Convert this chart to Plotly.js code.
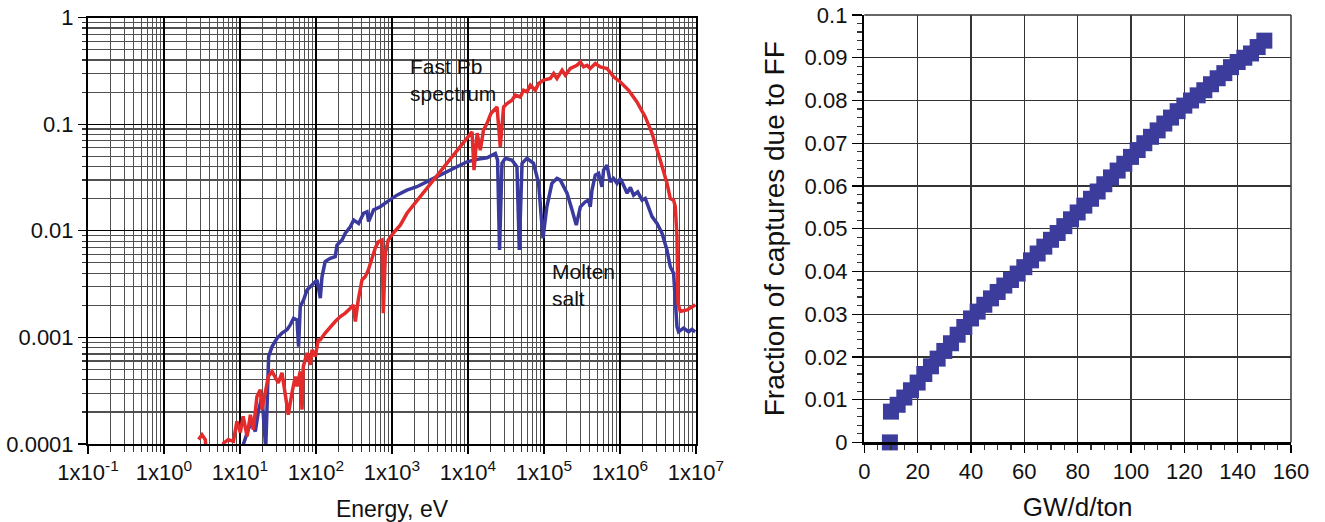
<!DOCTYPE html>
<html>
<head>
<meta charset="utf-8">
<script src="https://cdn.plot.ly/plotly-3.0.1.min.js"></script>
<style>html,body{margin:0;padding:0;background:#fff;}#chart{width:1325px;height:522px;}</style>
</head>
<body>
<div id="chart"></div>
<script>
// ---- Left panel: neutron spectra (energy in eV, flux per lethargy, relative) ----
const energyPb = [2.85,3.16,3.49,3.83,5.5,6.08,7.0,8.2,9.1,10.1,11.0,12.4,13.7,15.0,16.7,18.5,19.5,21.5,23.6,26.4,29.1,31.9,35.7,39.4,43.2,48.3,53.4,56.2,62.1,65.5,68.1,76.2,84.2,88.6,97.9,107,114,132,154,179,209,243,283,310,329,360,403,446,488,546,603,661,739,769,817,894,1040,1285,1574,11300,12000,13200,14500,16000,17800,20000,24100,26600,29400,32600,37900,41900,48700,53900,59700,66000,76900,84900,98900,121000,134000,148000,173000,191000,222000,272000,301000,332000,368000,406000,473000,551000,675000,824000,1.01e6,1.30e6,1.67e6,2.15e6,2.64e6,3.39e6,4.15e6,4.59e6,5.07e6,5.34e6,5.62e6,5.79e6,6.21e6,7.62e6,9.77e6];
const fluxPb = [1.1e-4,1.22e-4,1.1e-4,5.7e-5,5.7e-5,1.02e-4,1.1e-4,1.06e-4,1.63e-4,1.28e-4,1.82e-4,1.18e-4,1.88e-4,1.36e-4,2.79e-4,3.23e-4,2.1e-4,3.11e-4,4.3e-4,4.79e-4,4.3e-4,3.75e-4,4.66e-4,2.79e-4,1.88e-4,3.02e-4,4.3e-4,3.47e-4,4.79e-4,2.1e-4,5.33e-4,7.16e-4,5.53e-4,7.64e-4,6.62e-4,9.48e-4,9.5e-4,1.1e-3,1.26e-3,1.41e-3,1.57e-3,1.69e-3,1.88e-3,2.02e-3,1.41e-3,2.25e-3,3.46e-3,3.72e-3,4.29e-3,5.72e-3,6.9e-3,7.9e-3,8.2e-3,1.69e-3,6.19e-3,8.2e-3,9.53e-3,0.0113,0.0146,0.0848,0.0371,0.0824,0.0571,0.0879,0.102,0.126,0.145,0.0613,0.145,0.156,0.168,0.187,0.18,0.208,0.201,0.232,0.208,0.241,0.259,0.268,0.299,0.268,0.321,0.288,0.333,0.357,0.384,0.345,0.357,0.333,0.371,0.345,0.333,0.278,0.249,0.208,0.162,0.117,0.0819,0.046,0.0279,0.0201,0.0194,0.0168,8.8e-3,2.09e-3,1.75e-3,1.81e-3,2.02e-3];

const energyMS = [10.4,11.2,13.0,14.4,15.9,17.6,19.5,21.8,23.8,26.4,30.7,35.7,41.5,45.9,50.7,56.2,59.0,62.1,68.7,76.2,88.6,103,114,120,132,154,179,189,220,243,283,313,364,423,469,492,573,701,859,1160,1570,2130,3520,5850,9700,13100,17800,22900,24500,26000,28000,31000,37900,44100,47300,51400,59700,72900,84900,97000,109000,127000,148000,164000,201000,234000,266000,301000,349000,386000,406000,428000,473000,523000,579000,608000,675000,745000,824000,914000,1.01e6,1.11e6,1.24e6,1.37e6,1.51e6,1.71e6,1.95e6,2.15e6,2.26e6,2.64e6,3.07e6,3.57e6,4.15e6,4.59e6,5.07e6,5.34e6,5.62e6,5.9e6,6.87e6,8.0e6,8.85e6,9.77e6];
const fluxMS = [7.1e-5,1.02e-4,1.4e-4,1.57e-4,1.31e-4,2.1e-4,2.79e-4,9.0e-5,6.62e-4,8.2e-4,9.8e-4,1.1e-3,1.18e-3,1.31e-3,1.51e-3,1.46e-3,8.2e-4,1.95e-3,2.25e-3,2.79e-3,3.1e-3,3.46e-3,2.33e-3,3.72e-3,5.14e-3,5.52e-3,5.72e-3,7.36e-3,8.2e-3,9.48e-3,0.0109,0.0126,0.0117,0.0146,0.0151,0.0122,0.0157,0.0168,0.0187,0.0216,0.0241,0.0259,0.031,0.0371,0.0444,0.0468,0.0484,0.0532,0.046,6.6e-3,0.0429,0.0478,0.046,0.0398,6.6e-3,0.0429,0.0478,0.0429,0.0279,8.5e-3,0.0168,0.0279,0.031,0.0299,0.0225,0.0157,0.0113,0.0168,0.0187,0.0194,0.0168,0.0241,0.0333,0.0346,0.0259,0.0371,0.0413,0.0288,0.031,0.0279,0.031,0.0269,0.0225,0.0255,0.0216,0.0232,0.0194,0.0201,0.0181,0.0136,0.0117,9.5e-3,6.6e-3,4.6e-3,4.0e-3,2.4e-3,1.26e-3,1.13e-3,1.22e-3,1.13e-3,1.19e-3,1.13e-3];

const energyTickVals = [0.1,1,10,100,1000,1e4,1e5,1e6,1e7];
const energyTickText = ['1x10<sup>-1</sup>','1x10<sup>0</sup>','1x10<sup>1</sup>','1x10<sup>2</sup>','1x10<sup>3</sup>','1x10<sup>4</sup>','1x10<sup>5</sup>','1x10<sup>6</sup>','1x10<sup>7</sup>'];
const fluxTickVals = [1e-4,1e-3,1e-2,1e-1,1];
const fluxTickText = ['0.0001','0.001','0.01','0.1','1'];

// ---- Right panel: fraction of captures due to fission fragments vs burnup ----
const burnup = [9.6,10,12.5,15,17.5,20,22.5,25,27.5,30,32.5,35,37.5,40,42.5,45,47.5,50,52.5,55,57.5,60,62.5,65,67.5,70,72.5,75,77.5,80,82.5,85,87.5,90,92.5,95,97.5,100,102.5,105,107.5,110,112.5,115,117.5,120,122.5,125,127.5,130,132.5,135,137.5,140,142.5,145,147.5,150];
const ffFraction = [0,0.0072,0.0088,0.0105,0.0122,0.0140,0.0160,0.0178,0.0196,0.0214,0.0232,0.0252,0.0270,0.0290,0.0306,0.0322,0.0337,0.0352,0.0367,0.0380,0.0395,0.0410,0.0426,0.0442,0.0458,0.0474,0.0490,0.0506,0.0522,0.0538,0.0554,0.0570,0.0587,0.0604,0.0620,0.0636,0.0652,0.0668,0.0684,0.0700,0.0715,0.0730,0.0746,0.0760,0.0775,0.0788,0.0800,0.0812,0.0824,0.0838,0.0852,0.0864,0.0878,0.0890,0.0900,0.0910,0.0925,0.0940];

const RED = '#e32b2b';
const BLUE = '#3a3a9e';
const FONT = 'Liberation Sans, Arial, Helvetica, sans-serif';

const traces = [
  {x: energyMS, y: fluxMS, type: 'scatter', mode: 'lines', name: 'Molten salt',
   line: {color: BLUE, width: 3.5}, xaxis: 'x', yaxis: 'y'},
  {x: energyPb, y: fluxPb, type: 'scatter', mode: 'lines', name: 'Fast Pb spectrum',
   line: {color: RED, width: 3.5}, xaxis: 'x', yaxis: 'y'},
  {x: burnup, y: ffFraction, type: 'scatter', mode: 'markers', name: 'FF captures',
   marker: {symbol: 'square', size: 16, color: '#3c3c9c'}, cliponaxis: false,
   xaxis: 'x2', yaxis: 'y2'}
];

const layout = {
  width: 1325, height: 522,
  margin: {l: 87.7, r: 34.3, t: 14.7, b: 77.7},
  paper_bgcolor: '#fff', plot_bgcolor: '#fff',
  showlegend: false,
  font: {family: FONT, color: '#111', size: 20},
  xaxis: {
    type: 'log', range: [-1, 7], domain: [0, 0.5054],
    tickmode: 'array', tickvals: energyTickVals, ticktext: energyTickText,
    tickfont: {size: 22}, ticks: 'outside', ticklen: 8, tickcolor: '#000', tickwidth: 1.2,
    showgrid: true, gridcolor: '#000', gridwidth: 1.3,
    minor: {dtick: 'D1', showgrid: true, gridcolor: '#505050', gridwidth: 1.2, ticks: 'outside', ticklen: 6, tickcolor: '#333'},
    showline: true, linecolor: '#000', linewidth: 2, mirror: true, zeroline: false,
    title: {text: 'Energy, eV', font: {size: 23}, standoff: 16},
    anchor: 'y'
  },
  yaxis: {
    type: 'log', range: [-4, 0], domain: [0, 0.99395],
    tickmode: 'array', tickvals: fluxTickVals, ticktext: fluxTickText,
    tickfont: {size: 22}, ticks: 'outside', ticklen: 8, tickcolor: '#000', tickwidth: 1.2,
    showgrid: true, gridcolor: '#000', gridwidth: 1.3,
    minor: {dtick: 'D1', showgrid: true, gridcolor: '#505050', gridwidth: 1.2, ticks: 'outside', ticklen: 4, tickcolor: '#333'},
    showline: true, linecolor: '#000', linewidth: 2, mirror: true, zeroline: false,
    anchor: 'x'
  },
  xaxis2: {
    range: [0, 160], domain: [0.6453, 1],
    tickmode: 'linear', tick0: 0, dtick: 20,
    tickfont: {size: 22}, ticks: 'outside', ticklen: 8, tickcolor: '#000', tickwidth: 1.2,
    minor: {dtick: 5, ticks: 'outside', ticklen: 5, tickcolor: '#333', showgrid: false},
    showgrid: true, gridcolor: '#333', gridwidth: 1.2,
    showline: true, linecolor: '#000', linewidth: 2.5, mirror: false, zeroline: false,
    title: {text: 'GW/d/ton', font: {size: 26}, standoff: 16},
    anchor: 'y2'
  },
  yaxis2: {
    range: [0, 0.1], domain: [0.003724, 1],
    tickmode: 'linear', tick0: 0, dtick: 0.01,
    tickfont: {size: 22}, ticks: 'outside', ticklen: 10, tickcolor: '#000', tickwidth: 1.2,
    minor: {dtick: 0.002, ticks: 'outside', ticklen: 5, tickcolor: '#333', showgrid: false},
    showgrid: true, gridcolor: '#333', gridwidth: 1.2,
    showline: true, linecolor: '#000', linewidth: 2.5, mirror: false, zeroline: false,
    title: {text: 'Fraction of captures due to FF', font: {size: 28}, standoff: 12},
    anchor: 'x2'
  },
  shapes: [
    {type: 'line', xref: 'x2 domain', yref: 'y2 domain', x0: 0, x1: 1, y0: 1, y1: 1, line: {color: '#333', width: 1.5}, layer: 'below'},
    {type: 'line', xref: 'x2 domain', yref: 'y2 domain', x0: 1, x1: 1, y0: 0, y1: 1, line: {color: '#333', width: 1.5}, layer: 'below'}
  ],
  annotations: [
    {xref: 'x', yref: 'y', x: Math.log10(1600), y: Math.log10(0.47), xanchor: 'left', yanchor: 'top',
     text: 'Fast Pb<br>spectrum', showarrow: false, align: 'left', font: {size: 21, color: '#111'}},
    {xref: 'x', yref: 'y', x: Math.log10(1.2e5), y: Math.log10(0.0055), xanchor: 'left', yanchor: 'top',
     text: 'Molten<br>salt', showarrow: false, align: 'left', font: {size: 21, color: '#111'}}
  ]
};

Plotly.newPlot('chart', traces, layout, {staticPlot: true, displayModeBar: false});
</script>
</body>
</html>
